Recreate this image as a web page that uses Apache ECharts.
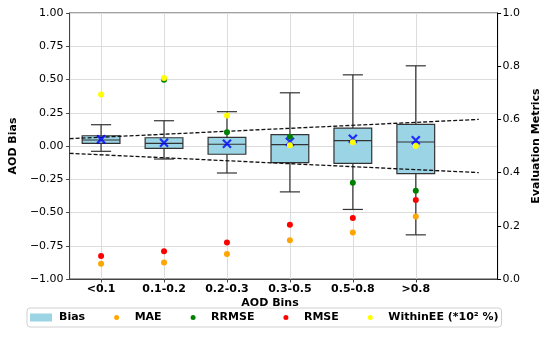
<!DOCTYPE html>
<html><head><meta charset="utf-8">
<script src="https://cdn.jsdelivr.net/npm/echarts@6/dist/echarts.min.js"></script>
<style>html,body{margin:0;padding:0;background:#fff}#c{width:550px;height:338px}</style>
</head><body><div id="c"></div>
<script>
const categories = ['<0.1', '0.1-0.2', '0.2-0.3', '0.3-0.5', '0.5-0.8', '>0.8'];
const whiskerLow = [-0.04, -0.098, -0.203, -0.345, -0.477, -0.668];
const q1 = [0.02, -0.018, -0.062, -0.125, -0.13, -0.208];
const median = [0.045, 0.02, 0.013, 0.01, 0.04, 0.03];
const q3 = [0.077, 0.062, 0.065, 0.085, 0.135, 0.163];
const whiskerHigh = [0.16, 0.19, 0.258, 0.40, 0.535, 0.603];
const meanBias = [0.05, 0.025, 0.017, 0.032, 0.055, 0.043];
const mae = [0.057, 0.062, 0.094, 0.146, 0.175, 0.235];
const rrmse = [null, 0.749, 0.552, 0.535, 0.362, 0.332];
const rmse = [0.086, 0.104, 0.137, 0.204, 0.229, 0.297];
const withinEE = [0.694, 0.756, 0.615, 0.503, 0.514, 0.5];
const eeX = [0.5, 7];
const eeUpper = [0.055, 0.2];
const eeLower = [-0.055, -0.2];

const FONT = 'DejaVu Sans';
const positions = categories.map((c, i) => i + 1);
const boxData = positions.map((p, i) => [p, whiskerLow[i], q1[i], median[i], q3[i], whiskerHigh[i]]);
const pts = arr => positions.map((p, i) => [p, arr[i]]);
const line = ys => eeX.map((x, i) => [x, ys[i]]);

const chart = echarts.init(document.getElementById('c'), null, {renderer: 'canvas'});
chart.setOption({
  animation: false,
  textStyle: {fontFamily: FONT},
  grid: {left: 61, top: 13, width: 447, height: 266, show: true, borderColor: '#444', borderWidth: 1, backgroundColor: 'transparent'},
  xAxis: {
    type: 'value', min: 0.5, max: 7.3,
    axisLine: {show: true, onZero: false, lineStyle: {color: '#444'}},
    axisTick: {show: true, length: 3.5, lineStyle: {color: '#444'}, customValues: positions},
    axisLabel: {customValues: positions, formatter: v => categories[Math.round(v) - 1] || '', fontFamily: FONT, fontSize: 11, fontWeight: 'bold', color: '#000', margin: 5},
    splitLine: {show: false}
  },
  yAxis: [{
    type: 'value', min: -1, max: 1, interval: 0.25,
    name: 'AOD Bias', nameLocation: 'middle', nameRotate: 90, nameGap: 42,
    nameTextStyle: {fontFamily: FONT, fontSize: 11, fontWeight: 'bold', color: '#000'},
    axisLine: {show: true, lineStyle: {color: '#444'}},
    axisTick: {show: true, length: 3.5, lineStyle: {color: '#444'}},
    axisLabel: {formatter: v => (v < 0 ? '\u2212' : '') + Math.abs(v).toFixed(2), fontFamily: FONT, fontSize: 11, color: '#000', margin: 6},
    splitLine: {show: true, lineStyle: {color: '#dcdcdc', width: 1}}
  }, {
    type: 'value', min: 0, max: 1, interval: 0.2, position: 'right',
    name: 'Evaluation Metrics', nameLocation: 'middle', nameRotate: 90, nameGap: 29,
    nameTextStyle: {fontFamily: FONT, fontSize: 11, fontWeight: 'bold', color: '#000', verticalAlign: 'bottom'},
    axisLine: {show: true, lineStyle: {color: '#000'}},
    axisTick: {show: true, length: 3.5, lineStyle: {color: '#000'}},
    axisLabel: {formatter: v => v.toFixed(1), fontFamily: FONT, fontSize: 11, color: '#000', margin: 5},
    splitLine: {show: false}
  }],
  legend: {
    left: 27, top: 308, orient: 'horizontal',
    itemWidth: 22, itemHeight: 8, itemGap: 26,
    padding: [4, 3, 4, 3],
    borderColor: '#d0d0d0', borderWidth: 1, borderRadius: 3,
    textStyle: {fontFamily: FONT, fontSize: 11, fontWeight: 'bold', color: '#000', padding: [0, 0, 0, 2]},
    data: [
      {name: 'Bias', icon: 'rect', itemStyle: {borderWidth: 0}},
      {name: 'MAE', icon: 'circle', itemStyle: {borderColor: '#fff', borderWidth: 3}},
      {name: 'RRMSE', icon: 'circle', itemStyle: {borderColor: '#fff', borderWidth: 3}},
      {name: 'RMSE', icon: 'circle', itemStyle: {borderColor: '#fff', borderWidth: 3}},
      {name: 'WithinEE (*10\u00B2 %)', icon: 'circle', itemStyle: {borderColor: '#fff', borderWidth: 3}}
    ]
  },
  graphic: [{
    type: 'text', x: 270, y: 303,
    style: {text: 'AOD Bins', textAlign: 'center', textVerticalAlign: 'middle', font: 'bold 11px "DejaVu Sans"', fill: '#000'}
  }],
  series: [{
    name: 'vgrid', type: 'line', z: 1, data: [], silent: true,
    markLine: {
      silent: true, symbol: 'none', label: {show: false}, z: 1,
      lineStyle: {color: '#dcdcdc', width: 1, type: 'solid'},
      data: positions.map(p => ({xAxis: p}))
    }
  }, {
    name: 'Bias', type: 'custom', z: 2,
    itemStyle: {color: '#9bd4e4'},
    encode: {x: 0, y: [1, 2, 3, 4, 5]},
    data: boxData,
    renderItem: function (params, api) {
      const x = api.value(0);
      const pLo = api.coord([x, api.value(1)]);
      const pQ1 = api.coord([x, api.value(2)]);
      const pMed = api.coord([x, api.value(3)]);
      const pQ3 = api.coord([x, api.value(4)]);
      const pHi = api.coord([x, api.value(5)]);
      const hw = api.size([0.3, 0])[0];
      const cw = api.size([0.16, 0])[0];
      const st = {stroke: '#333', lineWidth: 1.2, fill: null};
      return {type: 'group', children: [
        {type: 'line', shape: {x1: pLo[0], y1: pLo[1], x2: pQ1[0], y2: pQ1[1]}, style: st},
        {type: 'line', shape: {x1: pQ3[0], y1: pQ3[1], x2: pHi[0], y2: pHi[1]}, style: st},
        {type: 'line', shape: {x1: pLo[0] - cw, y1: pLo[1], x2: pLo[0] + cw, y2: pLo[1]}, style: st},
        {type: 'line', shape: {x1: pHi[0] - cw, y1: pHi[1], x2: pHi[0] + cw, y2: pHi[1]}, style: st},
        {type: 'rect', shape: {x: pQ3[0] - hw, y: pQ3[1], width: hw * 2, height: pQ1[1] - pQ3[1]}, style: {fill: '#9bd4e4', stroke: '#333', lineWidth: 1.2}},
        {type: 'line', shape: {x1: pMed[0] - hw, y1: pMed[1], x2: pMed[0] + hw, y2: pMed[1]}, style: st}
      ]};
    }
  }, {
    name: 'EEupper', type: 'line', z: 3, data: line(eeUpper), symbol: 'none',
    lineStyle: {color: '#111', width: 1.3, type: [4, 2]}, silent: true
  }, {
    name: 'EElower', type: 'line', z: 3, data: line(eeLower), symbol: 'none',
    lineStyle: {color: '#111', width: 1.3, type: [4, 2]}, silent: true
  }, {
    name: 'Mean', type: 'scatter', z: 4, data: pts(meanBias),
    symbol: 'path://M0,0L10,10M10,0L0,10', symbolSize: 8,
    itemStyle: {color: 'none', borderColor: '#0000ff', borderWidth: 2.2}
  }, {
    name: 'MAE', type: 'scatter', yAxisIndex: 1, z: 5, data: pts(mae), symbolSize: 6,
    itemStyle: {color: '#ffa500', opacity: 1}
  }, {
    name: 'RRMSE', type: 'scatter', yAxisIndex: 1, z: 5, data: pts(rrmse), symbolSize: 6,
    itemStyle: {color: '#008000', opacity: 1}
  }, {
    name: 'RMSE', type: 'scatter', yAxisIndex: 1, z: 5, data: pts(rmse), symbolSize: 6,
    itemStyle: {color: '#ff0000', opacity: 1}
  }, {
    name: 'WithinEE (*10\u00B2 %)', type: 'scatter', yAxisIndex: 1, z: 5, data: pts(withinEE), symbolSize: 6,
    itemStyle: {color: '#ffff00', opacity: 1}
  }]
});
</script></body></html>
